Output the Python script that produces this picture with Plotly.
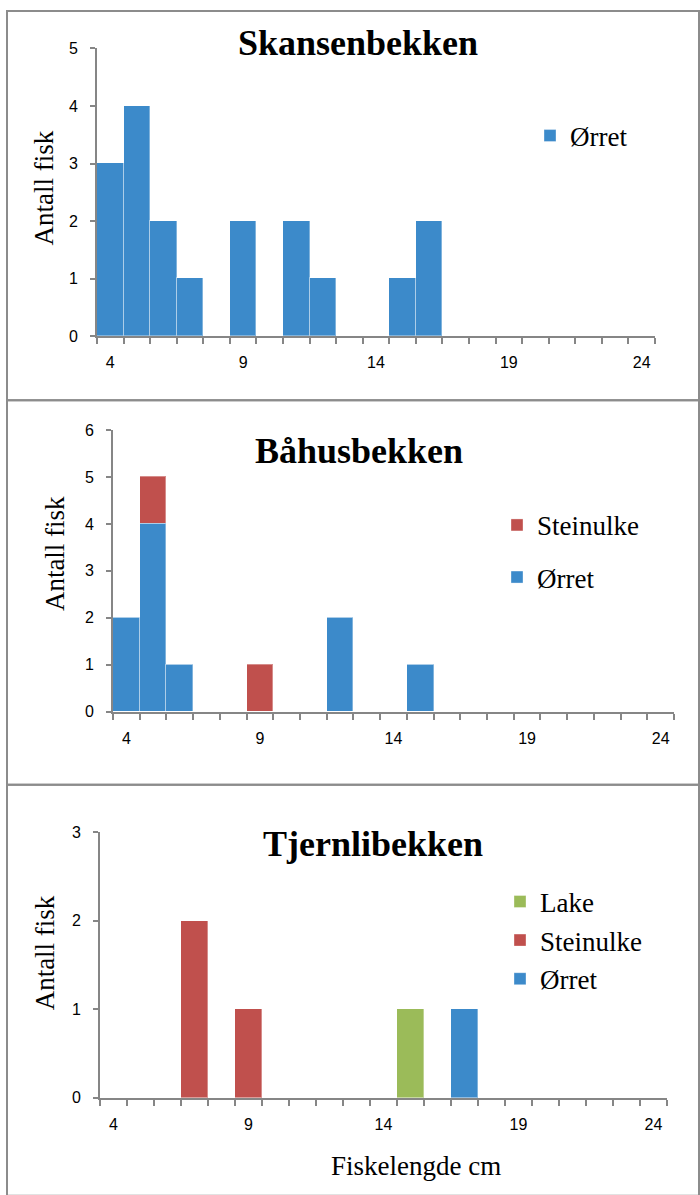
import plotly.graph_objects as go

# ---------------- data ----------------
lengths = list(range(4, 25))
tick_labels = [4, 9, 14, 19, 24]

skansen_orret = [3, 4, 2, 1, 0, 2, 0, 2, 1, 0, 0, 1, 2, 0, 0, 0, 0, 0, 0, 0, 0]

bahus_orret = [2, 4, 1, 0, 0, 0, 0, 0, 2, 0, 0, 1, 0, 0, 0, 0, 0, 0, 0, 0, 0]
bahus_steinulke = [0, 1, 0, 0, 0, 1, 0, 0, 0, 0, 0, 0, 0, 0, 0, 0, 0, 0, 0, 0, 0]

tjern_orret = [0, 0, 0, 0, 0, 0, 0, 0, 0, 0, 0, 0, 0, 1, 0, 0, 0, 0, 0, 0, 0]
tjern_steinulke = [0, 0, 0, 2, 0, 1, 0, 0, 0, 0, 0, 0, 0, 0, 0, 0, 0, 0, 0, 0, 0]
tjern_lake = [0, 0, 0, 0, 0, 0, 0, 0, 0, 0, 0, 1, 0, 0, 0, 0, 0, 0, 0, 0, 0]

panel_titles = ["Skansenbekken", "Båhusbekken", "Tjernlibekken"]
y_title = "Antall fisk"
x_title = "Fiskelengde cm"

# ---------------- style ----------------
W, H = 700, 1195
BLUE = "#3C8ACA"
RED = "#C0504D"
GREEN = "#9BBB59"
AX = "#868686"
SERIF = "Liberation Serif"
SANS = "Liberation Sans, Arial, sans-serif"


def px(x):
    return x / W


def py(y):
    return (H - y) / H


fig = go.Figure()


def bar(y, name, color, xa, ya, legend, rank):
    fig.add_trace(go.Bar(
        x=lengths, y=y, name=name, width=1,
        marker=dict(color=color, line=dict(color="rgba(255,255,255,0.35)", width=1)),
        xaxis=xa, yaxis=ya, legend=legend, legendgroup=legend + name,
        legendrank=rank, showlegend=True, hoverinfo="x+y+name",
    ))


bar(skansen_orret, "Ørret", BLUE, "x", "y", "legend", 3)
bar(bahus_orret, "Ørret", BLUE, "x2", "y2", "legend2", 3)
bar(bahus_steinulke, "Steinulke", RED, "x2", "y2", "legend2", 2)
bar(tjern_orret, "Ørret", BLUE, "x3", "y3", "legend3", 3)
bar(tjern_steinulke, "Steinulke", RED, "x3", "y3", "legend3", 2)
bar(tjern_lake, "Lake", GREEN, "x3", "y3", "legend3", 1)

# panel geometry (pixel positions of plot areas)
panels = [
    dict(x0=97, x1=655, ybot=333, ytop=41, ymax=5),
    dict(x0=113, x1=674, ybot=714, ytop=428, ymax=6),
    dict(x0=100, x1=667, ybot=1105.5, ytop=836, ymax=3),
]

layout = dict(
    width=W, height=H, margin=dict(l=0, r=0, t=0, b=0),
    paper_bgcolor="white", plot_bgcolor="white",
    barmode="stack", bargap=0, showlegend=True,
    font=dict(family=SERIF, color="#000"),
)

for i, p in enumerate(panels):
    sfx = "" if i == 0 else str(i + 1)
    layout["xaxis" + sfx] = dict(
        domain=[px(p["x0"]), px(p["x1"])], anchor="y" + sfx,
        range=[3.5, 24.5], tickmode="array", tickvals=tick_labels,
        ticktext=[str(t) for t in tick_labels],
        ticks="outside", ticklen=6, tickcolor="rgba(0,0,0,0)",
        ticklabelstandoff=5,
        minor=dict(tickmode="linear", tick0=3.5, dtick=1, ticks="outside",
                   ticklen=6, tickcolor=AX, tickwidth=1.5, showgrid=False),
        showline=True, linecolor=AX, linewidth=2, showgrid=False,
        zeroline=False, tickfont=dict(family=SANS, size=16, color="#000"),
        fixedrange=True,
    )
    layout["yaxis" + sfx] = dict(
        domain=[py(p["ybot"]), py(p["ytop"])], anchor="x" + sfx,
        range=[0, p["ymax"]], dtick=1, tick0=0,
        ticks="outside", ticklen=5, tickcolor=AX, tickwidth=1.5,
        ticklabelstandoff=9,
        showline=True, linecolor=AX, linewidth=2, showgrid=False,
        zeroline=False, tickfont=dict(family=SANS, size=16, color="#000"),
        fixedrange=True,
    )

leg_font = dict(family=SERIF, size=27, color="#000")
layout["legend"] = dict(x=px(530), y=py(105), xanchor="left", yanchor="top",
                        font=leg_font, bgcolor="rgba(0,0,0,0)",
                        traceorder="grouped", tracegroupgap=0)
layout["legend2"] = dict(x=px(497), y=py(500), xanchor="left", yanchor="top",
                         font=leg_font, bgcolor="rgba(0,0,0,0)",
                         traceorder="grouped", tracegroupgap=14)
layout["legend3"] = dict(x=px(500), y=py(882), xanchor="left", yanchor="top",
                         font=leg_font, bgcolor="rgba(0,0,0,0)",
                         traceorder="grouped", tracegroupgap=0.5)

annotations = []
title_pos = [(358, 35), (359, 449), (373, 848)]
for t, (x, y) in zip(panel_titles, title_pos):
    annotations.append(dict(text="<b>%s</b>" % t, x=px(x), y=py(y), xref="paper",
                            yref="paper", xanchor="center", yanchor="middle",
                            showarrow=False,
                            font=dict(family=SERIF, size=36, color="#000")))
ytitle_pos = [(44, 183), (55, 554), (45, 958)]
for x, y in ytitle_pos:
    annotations.append(dict(text=y_title, x=px(x), y=py(y), xref="paper", yref="paper",
                            xanchor="center", yanchor="middle", textangle=-90,
                            showarrow=False,
                            font=dict(family=SERIF, size=27, color="#000")))
annotations.append(dict(text=x_title, x=px(416), y=py(1175), xref="paper", yref="paper",
                        xanchor="center", yanchor="middle", showarrow=False,
                        font=dict(family=SERIF, size=27, color="#000")))
layout["annotations"] = annotations

border = dict(color="#8C8C8C", width=2)
layout["shapes"] = [
    dict(type="rect", xref="paper", yref="paper", x0=px(7), x1=px(699),
         y0=py(398), y1=py(3), line=border, layer="below"),
    dict(type="rect", xref="paper", yref="paper", x0=px(7), x1=px(699),
         y0=py(788), y1=py(398), line=border, layer="below"),
    dict(type="rect", xref="paper", yref="paper", x0=px(7), x1=px(699),
         y0=py(1205), y1=py(788), line=border, layer="below"),
]

fig.update_layout(**layout)
fig.write_html("out.html")
